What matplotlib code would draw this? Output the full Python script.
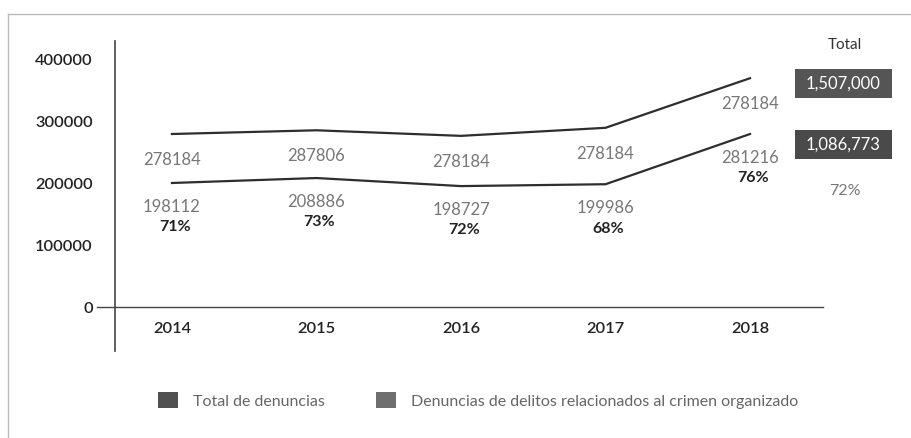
import matplotlib.pyplot as plt
from matplotlib.patches import Patch, Rectangle
from matplotlib.lines import Line2D

plt.rcParams['font.family'] = ['Lato', 'DejaVu Sans']

# datos
anios = ['2014', '2015', '2016', '2017', '2018']
total_denuncias = [279000, 285000, 276000, 289000, 369000]
crimen_org = [200000, 208000, 195000, 198000, 279000]
etiq_total = ['278184', '287806', '278184', '278184', '278184']
etiq_crimen = ['198112', '208886', '198727', '199986', '281216']
etiq_pct = ['71%', '73%', '72%', '68%', '76%']
y_ticks = [0, 100000, 200000, 300000, 400000]
suma_total = '1,507,000'
suma_crimen = '1,086,773'
pct_total = '72%'
leyenda = ['Total de denuncias', 'Denuncias de delitos relacionados al crimen organizado']

W, H = 912, 439
fig = plt.figure(figsize=(W / 100, H / 100), dpi=100)


def fx(px):
    return px / W


def fy(py):
    return 1 - py / H


ax = fig.add_axes([fx(115), fy(308), fx(823) - fx(115), fy(42) - fy(308)])
x = list(range(len(anios)))
ax.plot(x, total_denuncias, color='#2e2e2e', lw=1.6)
ax.plot(x, crimen_org, color='#2e2e2e', lw=1.6)

ax.set_xlim(-0.394, 4.505)
ax.set_ylim(0, 429000)
ax.set_yticks(y_ticks)
ax.set_yticklabels([str(v) for v in y_ticks])
ax.set_xticks(x)
ax.set_xticklabels(anios)
ax.tick_params(axis='y', length=0, pad=16, labelsize=11.8, labelcolor='#222222')
ax.tick_params(axis='x', length=0, pad=10, labelsize=11.8, labelcolor='#222222')
for lab in ax.get_xticklabels() + ax.get_yticklabels():
    lab.set_fontweight('semibold')
for s in ['top', 'right', 'left']:
    ax.spines[s].set_visible(False)
ax.spines['bottom'].set_color('#444444')
ax.spines['bottom'].set_linewidth(1.0)

# eje vertical y marca del cero
ax.add_line(Line2D([0, 0], [-0.165, 1], transform=ax.transAxes, color='#444444',
                   lw=1.2, clip_on=False))
ax.add_line(Line2D([-0.025, 0], [0, 0], transform=ax.get_yaxis_transform(),
                   color='#444444', lw=1.0, clip_on=False))

for i in x:
    ax.text(i, total_denuncias[i] - 40000, etiq_total[i], ha='center', va='center',
            fontsize=12, color='#777777')
    ax.text(i, crimen_org[i] - 37000, etiq_crimen[i], ha='center', va='center',
            fontsize=12, color='#777777')
    ax.text(i + 0.02, crimen_org[i] - 70000, etiq_pct[i], ha='center', va='center',
            fontsize=11.5, color='#222222', fontweight='bold')

# columna de totales
fig.text(fx(845), fy(45), 'Total', ha='center', va='center', fontsize=11, color='#333333')
fig.add_artist(Rectangle((fx(795), fy(99)), fx(97), 29 / H, transform=fig.transFigure,
                         facecolor='#555555', edgecolor='none'))
fig.text(fx(843), fy(84), suma_total, ha='center', va='center', fontsize=12, color='white')
fig.add_artist(Rectangle((fx(795), fy(160)), fx(97), 29 / H, transform=fig.transFigure,
                         facecolor='#4a4a4a', edgecolor='none'))
fig.text(fx(843), fy(145), suma_crimen, ha='center', va='center', fontsize=12, color='white')
fig.text(fx(845), fy(191), pct_total, ha='center', va='center', fontsize=11.5, color='#777777')

# leyenda
handles = [Patch(facecolor='#505050', edgecolor='none'),
           Patch(facecolor='#6e6e6e', edgecolor='none')]
leg = fig.legend(handles, leyenda, loc='center left', bbox_to_anchor=(fx(158), fy(401)),
                 ncol=2, frameon=False, fontsize=11.5, handlelength=1.25, handleheight=1.2,
                 handletextpad=0.95, columnspacing=3.2, borderpad=0, borderaxespad=0)
for t in leg.get_texts():
    t.set_color('#666666')

# marco del recuadro
fig.add_artist(Line2D([fx(8), fx(8)], [fy(15), 0], transform=fig.transFigure,
                      color='#bbbbbb', lw=1.0))
fig.add_artist(Line2D([fx(8), 1], [fy(15), fy(15)], transform=fig.transFigure,
                      color='#bbbbbb', lw=1.0))

fig.savefig('out.png', dpi=100)
